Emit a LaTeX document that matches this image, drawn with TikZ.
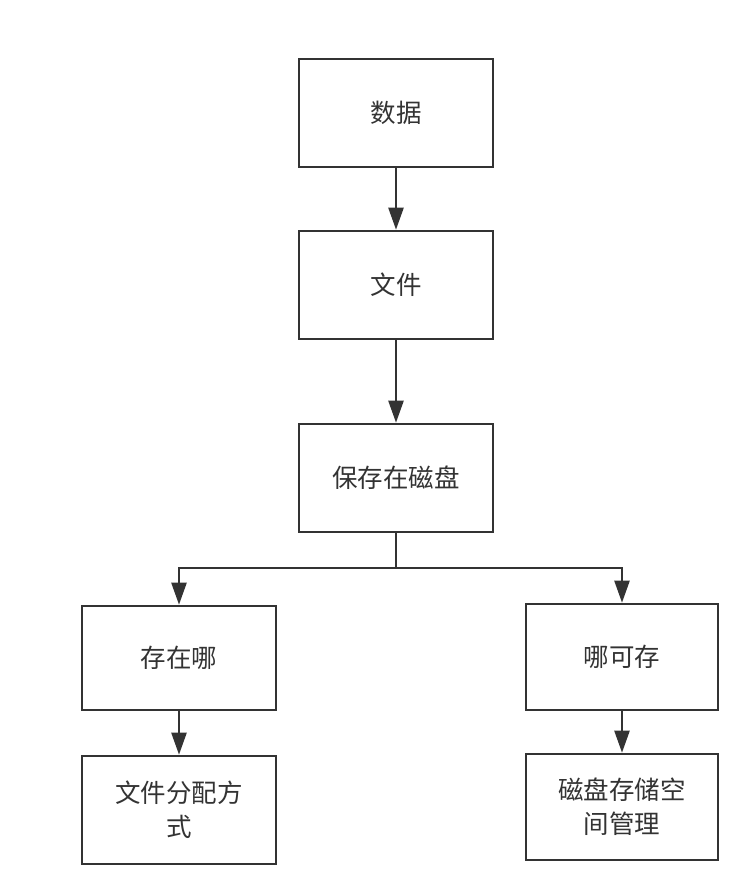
\documentclass[tikz,border=0pt]{standalone}
\usepackage{fontspec}
\setmainfont{Noto Sans CJK SC}
\usetikzlibrary{arrows.meta}
\definecolor{ln}{HTML}{333333}
\tikzset{
  box/.style={draw=ln, line width=2.6pt, rectangle, minimum width=194pt, minimum height=108pt, align=center, font=\fontsize{25.5pt}{34pt}\selectfont, text=ln, inner sep=0pt},
  conn/.style={draw=ln, line width=2.4pt, -{Triangle[length=22pt,width=15pt]}},
  plain/.style={draw=ln, line width=2.4pt}
}
\begin{document}
\begin{tikzpicture}[x=1pt,y=-1pt]
\useasboundingbox (0,0) rectangle (744,890);
\node[box] (a) at (396,113) {数据};
\node[box] (b) at (396,285) {文件};
\node[box] (c) at (396,478) {保存在磁盘};
\node[box, minimum height=104pt] (d) at (179,658) {存在哪};
\node[box, minimum width=192pt, minimum height=106pt] (e) at (622,657) {哪可存};
\node[box] (f) at (179,810) {文件分配方\\式};
\node[box, minimum width=192pt, minimum height=106pt] (g) at (622,807) {磁盘存储空\\间管理};
\coordinate (j) at (396,568);
\draw[conn] (a) -- (b);
\draw[conn] (b) -- (c);
\draw[plain] (c.south) -- (j);
\draw[conn] (j) -| (d.north);
\draw[conn] (j) -| (e.north);
\draw[conn] (d) -- (f);
\draw[conn] (e) -- (g);
\end{tikzpicture}
\end{document}
